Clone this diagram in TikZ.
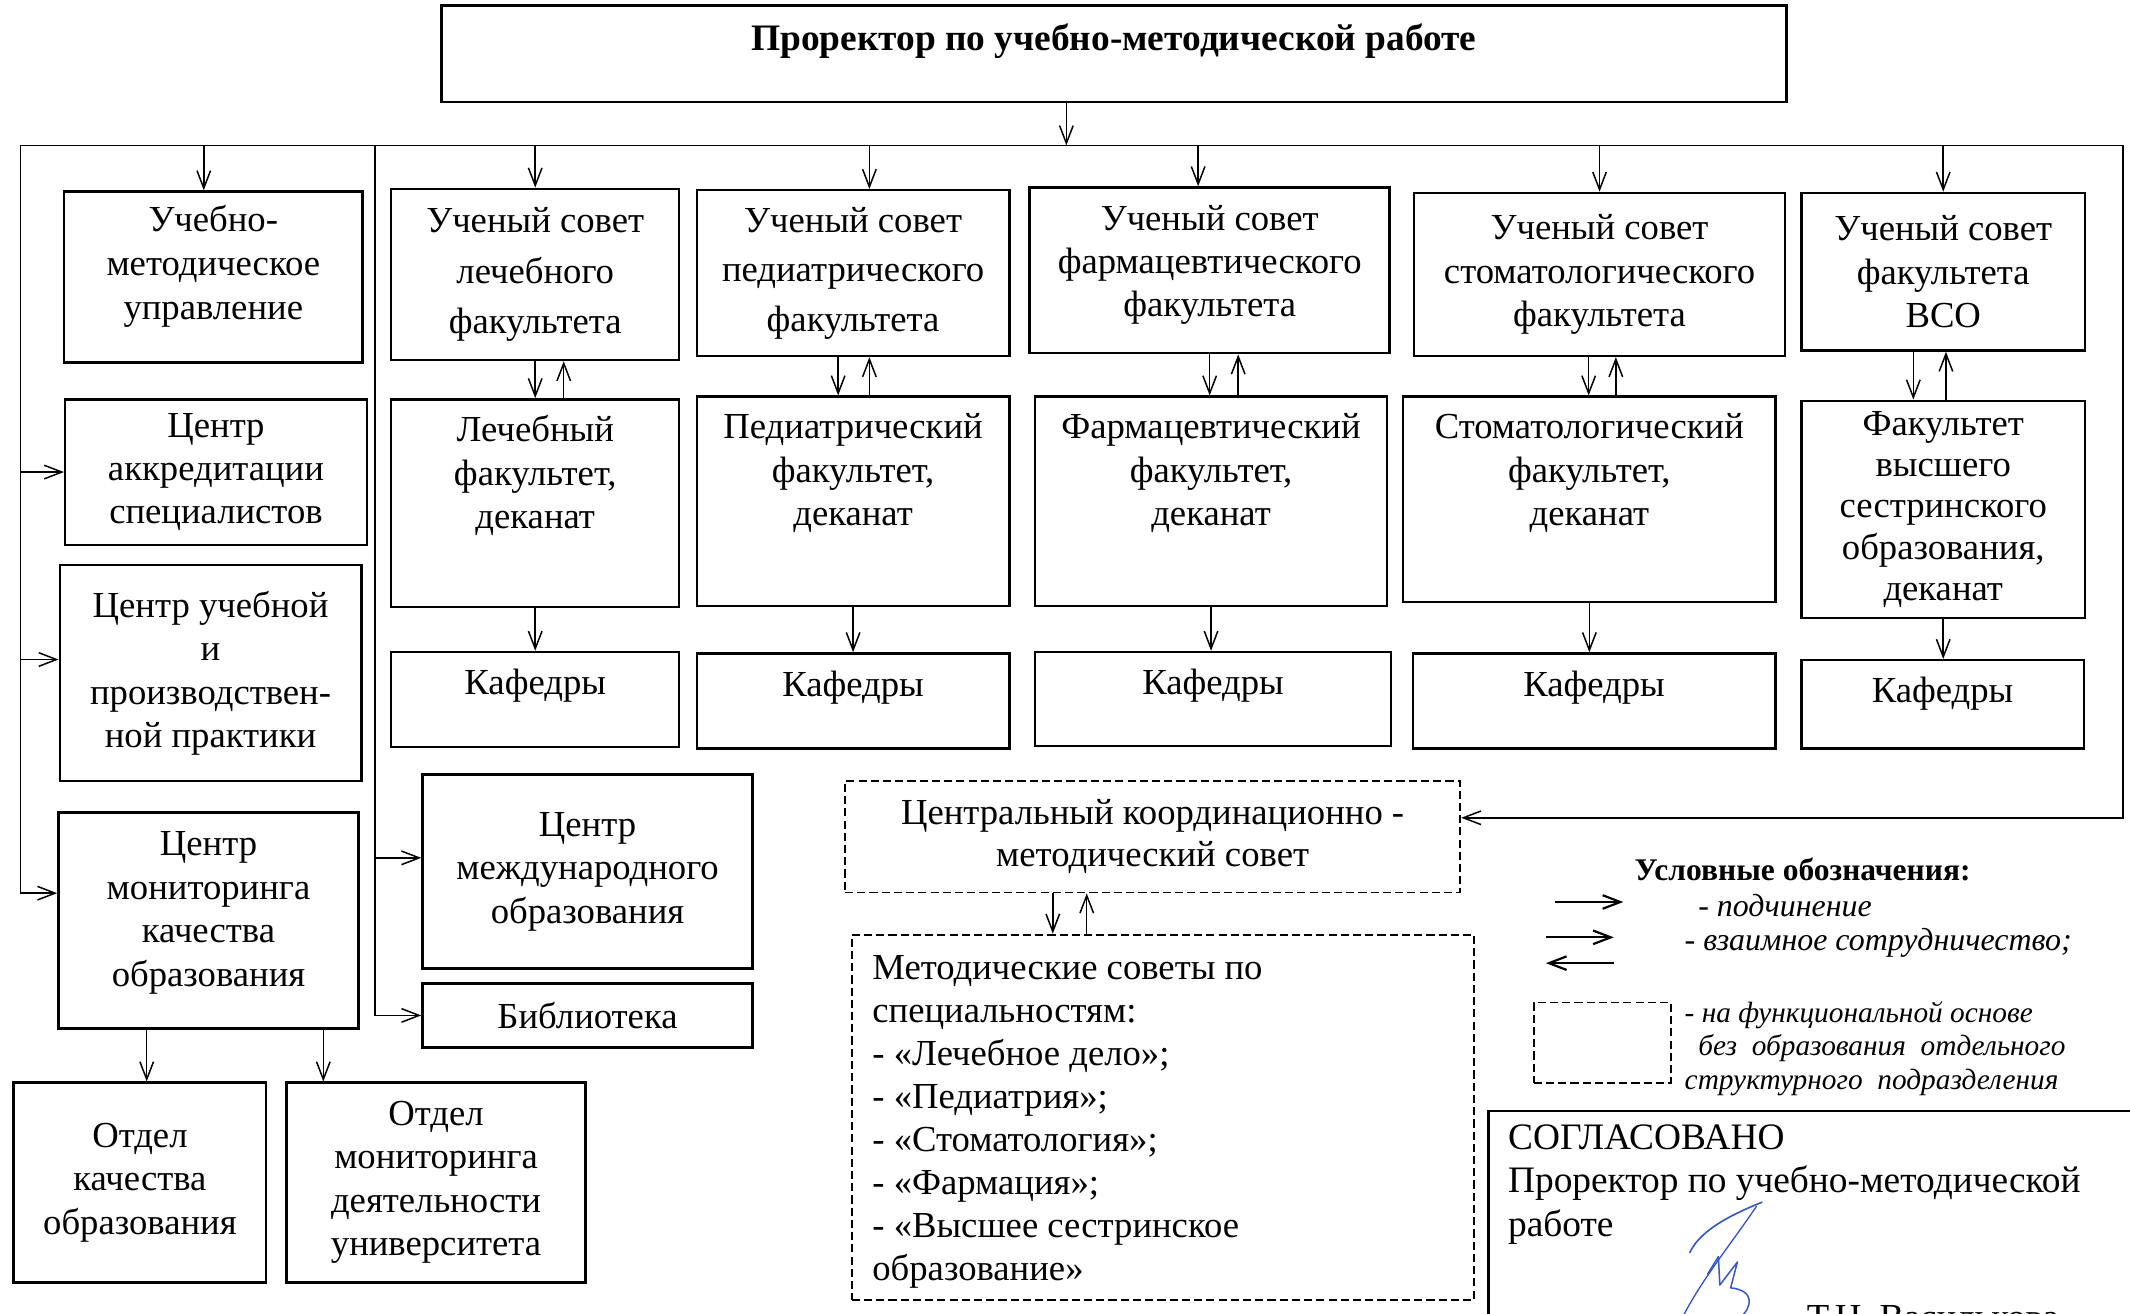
\documentclass[tikz,border=0pt]{standalone}
\usepackage{fontspec}
\setmainfont{Liberation Serif}
\usetikzlibrary{arrows.meta}
\definecolor{ink}{RGB}{55,85,205}

\begin{document}
\begin{tikzpicture}[x=1pt, y=-1pt,
    box/.style={draw, line width=1.8pt, inner sep=0pt, align=center, font=\fontsize{27}{32}\selectfont},
    dbox/.style={box, line width=1.4pt, dash pattern=on 6pt off 3pt},
    txt/.style={inner sep=0pt, align=center, font=\fontsize{27}{32}\selectfont},
    wire/.style={line width=1.1pt},
    arr/.style={wire, -{Straight Barb[length=13pt, width=10pt]}},
    legend/.style={inner sep=0pt, align=left, font=\itshape\fontsize{23.5}{25}\selectfont}]

    \useasboundingbox (0,0) rectangle (1568,967);

    \node[box, minimum width=990, minimum height=71] (rect) at (820,39.5) {};
    \node[txt, font=\bfseries\fontsize{27.5}{30}\selectfont] (rectT) at (820,30) {Проректор по учебно-методической работе};

    \node[box, minimum width=220, minimum height=126] (uprav) at (157,204) {};
    \node[txt, font=\fontsize{27}{32.5}\selectfont] (upravT) at (157,196) {Учебно-\\методическое\\управление};
    \node[box, minimum width=222, minimum height=107, font=\fontsize{27}{31.5}\selectfont] (akkr) at (159,347.5) {Центр\\аккредитации\\специалистов};
    \node[box, minimum width=222, minimum height=159] (prakt) at (155,495.5) {Центр учебной\\и\\производствен-\\ной практики};
    \node[box, minimum width=221, minimum height=159] (monit) at (153.5,677.5) {};
    \node[txt] (monitT) at (153.5,672) {Центр\\мониторинга\\качества\\образования};
    \node[box, minimum width=186, minimum height=147] (otdK) at (103,870.5) {Отдел\\качества\\образования};
    \node[box, minimum width=220, minimum height=147] (otdM) at (321,870.5) {Отдел\\мониторинга\\деятельности\\университета};
    \node[box, minimum width=243, minimum height=143] (mezhd) at (432.5,641.5) {Центр\\международного\\образования};
    \node[box, minimum width=243, minimum height=47] (bibl) at (432.5,747.5) {Библиотека};

    \node[box, minimum width=212, minimum height=126, font=\fontsize{27}{37}\selectfont] (u2) at (394,202) {Ученый совет\\лечебного\\факультета};
    \node[box, minimum width=230, minimum height=122, font=\fontsize{27}{36.5}\selectfont] (u3) at (628,201) {Ученый совет\\педиатрического\\факультета};
    \node[box, minimum width=265, minimum height=122] (u4) at (890.5,199) {};
    \node[txt] (u4T) at (890.5,195) {Ученый совет\\фармацевтического\\факультета};
    \node[box, minimum width=273, minimum height=120] (u5) at (1177.5,202) {Ученый совет\\стоматологического\\факультета};
    \node[box, minimum width=209, minimum height=116] (u6) at (1430.5,200) {Ученый совет\\факультета\\ВСО};

    \node[box, minimum width=212, minimum height=153] (f2) at (394,370.5) {};
    \node[txt] (f2T) at (394,350) {Лечебный\\факультет,\\деканат};
    \node[box, minimum width=230, minimum height=154] (f3) at (628,369) {};
    \node[txt] (f3T) at (628,348.5) {Педиатрический\\факультет,\\деканат};
    \node[box, minimum width=259, minimum height=154] (f4) at (891.5,369) {};
    \node[txt] (f4T) at (891.5,348.5) {Фармацевтический\\факультет,\\деканат};
    \node[box, minimum width=274, minimum height=151] (f5) at (1170,367.5) {};
    \node[txt] (f5T) at (1170,348.5) {Стоматологический\\факультет,\\деканат};
    \node[box, minimum width=209, minimum height=160, font=\fontsize{27}{30.3}\selectfont] (f6) at (1430.5,375) {Факультет\\высшего\\сестринского\\образования,\\деканат};

    \node[box, minimum width=212, minimum height=70] (k2) at (394,515) {};
    \node[txt] (k2T) at (394,505) {Кафедры};
    \node[box, minimum width=230, minimum height=70] (k3) at (628,516) {};
    \node[txt] (k3T) at (628,506) {Кафедры};
    \node[box, minimum width=262, minimum height=69] (k4) at (893,514.5) {};
    \node[txt] (k4T) at (893,505) {Кафедры};
    \node[box, minimum width=267, minimum height=70] (k5) at (1173.5,516) {};
    \node[txt] (k5T) at (1173.5,506) {Кафедры};
    \node[box, minimum width=208, minimum height=65] (k6) at (1430,518.5) {};
    \node[txt] (k6T) at (1430,511) {Кафедры};

    \node[dbox, minimum width=453, minimum height=82, font=\fontsize{27}{31}\selectfont] (ckms) at (848.5,616) {Центральный координационно -\\методический совет};
    \node[dbox, minimum width=458, minimum height=269] (msov) at (856,822.5) {};
    \node[txt, align=left, anchor=west, font=\fontsize{27}{31.7}\selectfont] (msovT) at (642,826) {Методические советы по\\специальностям:\\- «Лечебное дело»;\\- «Педиатрия»;\\- «Стоматология»;\\- «Фармация»;\\- «Высшее сестринское\\образование»};

    \coordinate (busL) at (15,107);
    \coordinate (busM) at (276,107);
    \coordinate (busR) at (1563,107);
    \coordinate (topDrop) at (785,107);

    \draw[wire] (busL) -- (busR);
    \draw[arr] (topDrop |- rect.south) -- (topDrop);
    \draw[arr] ([xshift=-7pt]uprav.north |- busL) -- ([xshift=-7pt]uprav.north);
    \draw[arr] (u2.north |- busL) -- (u2.north);
    \draw[arr] ([xshift=12pt]u3.north |- busL) -- ([xshift=12pt]u3.north);
    \draw[arr] ([xshift=-8.5pt]u4.north |- busL) -- ([xshift=-8.5pt]u4.north);
    \draw[arr] (u5.north |- busL) -- (u5.north);
    \draw[arr] (u6.north |- busL) -- (u6.north);

    \draw[arr] (busL) |- ([yshift=20pt]monit.west);
    \draw[arr] (busL |- akkr.west) -- (akkr.west);
    \draw[arr] ([yshift=10pt]prakt.west -| busL) -- ([yshift=10pt]prakt.west);
    \draw[arr] (busM) |- (bibl.west);
    \draw[arr] ([yshift=10pt]mezhd.west -| busM) -- ([yshift=10pt]mezhd.west);
    \draw[arr] (busR) |- ([yshift=14pt]ckms.east);

    \draw[arr] (u2.south) -- (u2.south |- f2.north);
    \draw[arr] ([xshift=21pt]u2.south |- f2.north) -- ([xshift=21pt]u2.south);
    \draw[arr] ([xshift=-11pt]u3.south) -- ([xshift=-11pt]u3.south |- f3.north);
    \draw[arr] ([xshift=12pt]u3.south |- f3.north) -- ([xshift=12pt]u3.south);
    \draw[arr] (u4.south) -- (u4.south |- f4.north);
    \draw[arr] ([xshift=21pt]u4.south |- f4.north) -- ([xshift=21pt]u4.south);
    \draw[arr] ([xshift=-8pt]u5.south) -- ([xshift=-8pt]u5.south |- f5.north);
    \draw[arr] ([xshift=12pt]u5.south |- f5.north) -- ([xshift=12pt]u5.south);
    \draw[arr] ([xshift=-22pt]u6.south) -- ([xshift=-22pt]u6.south |- f6.north);
    \draw[arr] ([xshift=2pt]u6.south |- f6.north) -- ([xshift=2pt]u6.south);

    \draw[arr] (f2.south) -- (f2.south |- k2.north);
    \draw[arr] (f3.south) -- (f3.south |- k3.north);
    \draw[arr] (f4.south) -- (f4.south |- k4.north);
    \draw[arr] (f5.south) -- (f5.south |- k5.north);
    \draw[arr] (f6.south) -- (f6.south |- k6.north);

    \draw[arr] ([xshift=-45.5pt]monit.south) -- ([xshift=-45.5pt]monit.south |- otdK.north);
    \draw[arr] ([xshift=84.5pt]monit.south) -- ([xshift=84.5pt]monit.south |- otdM.north);

    \draw[arr] ([xshift=-73.5pt]ckms.south) -- ([xshift=-73.5pt]ckms.south |- msov.north);
    \draw[arr] ([xshift=-48.5pt]ckms.south |- msov.north) -- ([xshift=-48.5pt]ckms.south);

    \node[inner sep=0pt, font=\bfseries\fontsize{23.2}{26}\selectfont] (legH) at (1327,640) {Условные обозначения:};
    \coordinate (lgA1) at (1145,664);
    \coordinate (lgA2) at (1195,664);
    \coordinate (lgB1) at (1138,690);
    \coordinate (lgB2) at (1188,690);
    \coordinate (lgC1) at (1188,709);
    \coordinate (lgC2) at (1138,709);
    \draw[arr, line width=1.6pt] (lgA1) -- (lgA2);
    \draw[arr, line width=1.6pt] (lgB1) -- (lgB2);
    \draw[arr, line width=1.6pt] (lgC1) -- (lgC2);
    \node[legend, anchor=west] (legP) at (1250,667) {- подчинение};
    \node[legend, anchor=west] (legV) at (1240,694) {- взаимное сотрудничество;};
    \node[dbox, minimum width=101, minimum height=59] (legD) at (1179.5,767.5) {};
    \node[legend, anchor=west, font=\itshape\fontsize{21.6}{25}\selectfont] (legF) at (1240,772) {- на функциональной основе\\\hspace*{10pt}без\ \ образования\ \ отдельного\\структурного\ \ подразделения};

    \node[draw, line width=1.5pt, minimum width=520, minimum height=200, anchor=north west] (agree) at (1095,817) {};
    \node[txt, align=left, anchor=west, font=\fontsize{27.5}{32}\selectfont] (agreeT) at (1110,872) {СОГЛАСОВАНО\\Проректор по учебно-методической\\работе};
    \node[txt, anchor=west] (signT) at (1330,970) {Т.Н. Василькова};

    \draw[ink, line width=1.2pt, line cap=round] (1244,922) .. controls (1252,904) and (1280,892) .. (1297,885);
    \draw[ink, line width=1pt, line cap=round] (1293,888) .. controls (1275,915) and (1250,945) .. (1236,975);
    \draw[ink, line width=1.1pt, line cap=round, line join=round] (1257,938) -- (1265,925) -- (1266,946) -- (1279,929) -- (1274,948) .. controls (1292,950) and (1290,962) .. (1281,970);

\end{tikzpicture}
\end{document}
